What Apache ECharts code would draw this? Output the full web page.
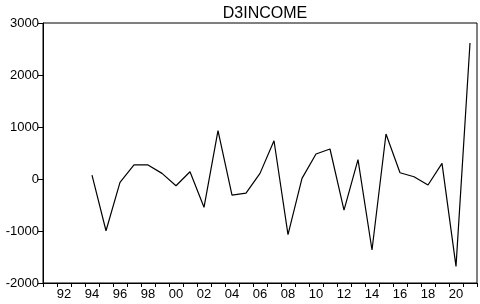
<!DOCTYPE html>
<html>
<head>
<meta charset="utf-8">
<script src="https://cdn.jsdelivr.net/npm/echarts@6/dist/echarts.min.js"></script>
<style>html,body{margin:0;padding:0;background:#fff}#c{width:480px;height:304px}</style>
</head>
<body>
<div id="c"></div>
<script>
var categories = ['91','92','93','94','95','96','97','98','99','00','01','02','03','04','05','06','07','08','09','10','11','12','13','14','15','16','17','18','19','20','21'];
var values = [null,null,null,75,-995,-65,270,270,108,-130,140,-545,930,-310,-270,108,735,-1071,12,480,577,-597,371,-1366,865,121,44,-115,300,-1680,2615];
var yTicks = {min:-2000, max:3000, interval:1000};
var title = 'D3INCOME';

var chart = echarts.init(document.getElementById('c'), null, {renderer:'canvas'});
var font = 'Liberation Sans, Arial, sans-serif';
chart.setOption({
  animation:false,
  title:{text:title, left:260, top:1, textAlign:'center',
    textStyle:{fontFamily:font, fontSize:16, fontWeight:'normal', color:'#000'}},
  grid:{left:43, right:3, top:23, bottom:21, show:true, borderColor:'#000', borderWidth:1, backgroundColor:'#fff'},
  xAxis:{type:'category', data:categories, boundaryGap:true,
    axisLine:{onZero:false, lineStyle:{color:'#000', width:1}},
    axisTick:{show:true, interval:0, length:4, inside:false, lineStyle:{color:'#000'}},
    axisLabel:{interval:function(i){return i%2===1;}, color:'#000', fontFamily:font, fontSize:13, margin:5},
    splitLine:{show:false}},
  yAxis:{type:'value', min:yTicks.min, max:yTicks.max, interval:yTicks.interval,
    axisLine:{show:true, lineStyle:{color:'#000', width:1}},
    axisTick:{show:true, length:5, lineStyle:{color:'#000'}},
    axisLabel:{color:'#000', fontFamily:font, fontSize:13, margin:4, formatter:function(v){return String(v);}},
    splitLine:{show:false}},
  series:[{type:'line', data:values, showSymbol:false, symbol:'none', connectNulls:false,
    lineStyle:{color:'#000', width:1.2}}]
});
</script>
</body>
</html>
